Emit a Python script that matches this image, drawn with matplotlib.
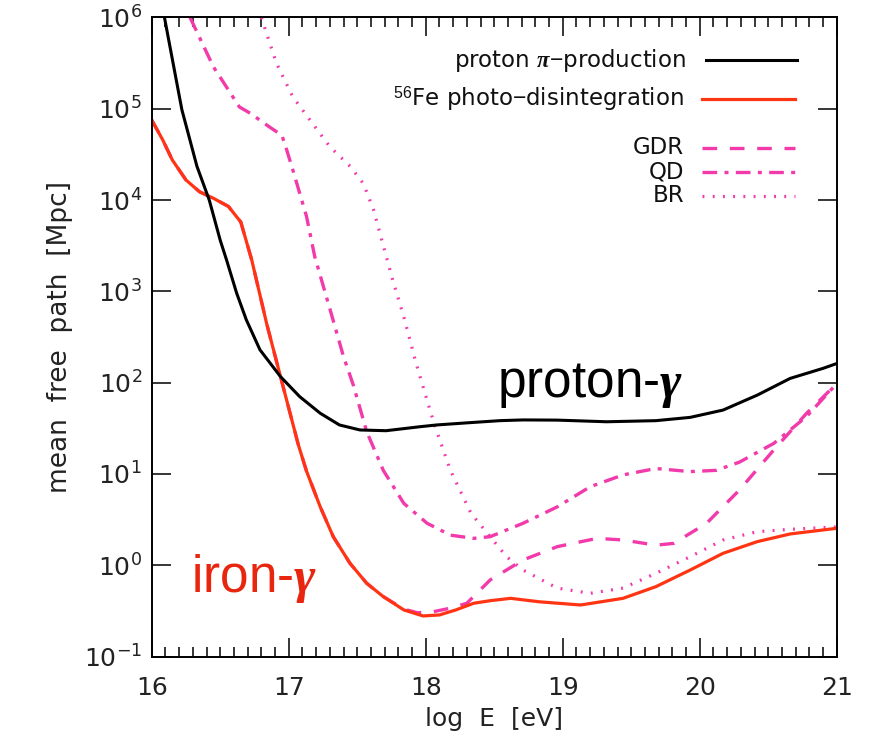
import numpy as np
import matplotlib
matplotlib.use("Agg")
import matplotlib.pyplot as plt
from matplotlib.ticker import FixedLocator, MultipleLocator, NullLocator

plt.rcParams['font.family'] = ['DejaVu Sans']
plt.rcParams['mathtext.fontset'] = 'custom'
plt.rcParams['mathtext.rm'] = 'Liberation Sans'
plt.rcParams['mathtext.it'] = 'Liberation Serif:italic'
plt.rcParams['mathtext.bf'] = 'Liberation Serif:bold:italic'

# ---- mean free paths, log10 of Mpc, versus log10(E/eV) ----
proton_logE = [16.05, 16.093, 16.22, 16.33, 16.42, 16.50, 16.547, 16.62, 16.69, 16.79,
               16.94, 17.08, 17.23, 17.37, 17.52, 17.71, 17.96, 18.08, 18.32, 18.54,
               18.71, 18.96, 19.32, 19.68, 19.93, 20.17, 20.42, 20.66, 20.90, 21.0]
proton_logL = [6.35, 6.0, 4.99, 4.37, 4.00, 3.56, 3.34, 2.98, 2.69, 2.36,
               2.066, 1.847, 1.665, 1.537, 1.482, 1.474, 1.518, 1.537, 1.562, 1.584,
               1.592, 1.59, 1.572, 1.584, 1.62, 1.70, 1.864, 2.047, 2.157, 2.21]

iron_logE = [16.0, 16.08, 16.15, 16.25, 16.35, 16.45, 16.56, 16.65, 16.73, 16.84,
             16.94, 17.07, 17.13, 17.23, 17.325, 17.447, 17.569, 17.69, 17.84, 17.98,
             18.10, 18.22, 18.35, 18.47, 18.62, 18.83, 19.13, 19.44, 19.68, 19.93,
             20.17, 20.42, 20.66, 20.90, 21.0]
iron_logL = [4.877, 4.66, 4.44, 4.22, 4.09, 4.02, 3.93, 3.76, 3.344, 2.64,
             2.066, 1.32, 1.03, 0.64, 0.313, 0.022, -0.197, -0.343, -0.489, -0.555,
             -0.544, -0.489, -0.416, -0.388, -0.362, -0.40, -0.435, -0.362, -0.234, -0.052,
             0.131, 0.259, 0.343, 0.387, 0.405]

gdr_logE = [16.0, 16.08, 16.15, 16.25, 16.35, 16.45, 16.56, 16.65, 16.73, 16.84,
            16.94, 17.07, 17.13, 17.23, 17.325, 17.447, 17.569, 17.69, 17.84, 17.94,
            18.05, 18.18, 18.30, 18.47, 18.71, 18.96, 19.25, 19.44, 19.68, 19.81,
            20.05, 20.29, 20.54, 20.78, 21.0]
gdr_logL = [4.877, 4.66, 4.44, 4.22, 4.09, 4.02, 3.93, 3.76, 3.344, 2.64,
            2.066, 1.32, 1.03, 0.64, 0.313, 0.022, -0.197, -0.343, -0.48, -0.52,
            -0.51, -0.47, -0.416, -0.161, 0.058, 0.204, 0.295, 0.277, 0.22, 0.24,
            0.46, 0.825, 1.263, 1.665, 1.99]

qd_logE = [16.28, 16.45, 16.64, 16.72, 16.86, 16.95, 16.985, 17.03, 17.08, 17.13,
           17.19, 17.30, 17.40, 17.47, 17.57, 17.69, 17.84, 18.01, 18.18, 18.35,
           18.47, 18.71, 18.96, 19.20, 19.44, 19.68, 19.93, 20.12, 20.29, 20.54,
           20.78, 21.0]
qd_logL = [6.0, 5.46, 5.02, 4.95, 4.80, 4.71, 4.55, 4.33, 4.075, 3.82,
           3.38, 2.81, 2.285, 1.98, 1.46, 1.04, 0.678, 0.46, 0.33, 0.295,
           0.313, 0.46, 0.64, 0.86, 0.99, 1.06, 1.026, 1.04, 1.13, 1.335,
           1.63, 1.99]

br_logE = [16.80, 16.91, 17.03, 17.155, 17.30, 17.45, 17.545, 17.62, 17.69, 17.76,
           17.84, 17.93, 18.06, 18.18, 18.33, 18.47, 18.59, 18.71, 18.96, 19.20,
           19.44, 19.68, 19.93, 20.17, 20.42, 20.66, 21.0]
br_logL = [6.0, 5.50, 5.13, 4.877, 4.585, 4.366, 4.18, 3.89, 3.50, 3.12,
           2.72, 2.21, 1.555, 1.04, 0.57, 0.313, 0.094, -0.052, -0.25, -0.307,
           -0.25, -0.088, 0.094, 0.277, 0.368, 0.394, 0.42]

x_ticks = [16, 17, 18, 19, 20, 21]
y_decades = [-1, 0, 1, 2, 3, 4, 5, 6]

BLACK = '#000000'
RED = '#FF3412'
PINK = '#F23AAA'
TEXT_RED = '#E8260F'

fig = plt.figure(figsize=(8.75, 7.44), dpi=100)
ax = fig.add_axes([0.1734, 0.1175, 0.7829, 0.859])


def curve(xs, ls, **kw):
    ax.plot(xs, np.power(10.0, ls), **kw)


DOT = (0, (0.6, 2.6))
DASHDOT = (0, (4.4, 2.2, 1.2, 2.2))
DASH = (0, (4.4, 3.8))

curve(br_logE, br_logL, color=PINK, lw=2.3, linestyle=DOT)
curve(qd_logE, qd_logL, color=PINK, lw=2.4, linestyle=DASHDOT)
curve(gdr_logE, gdr_logL, color=PINK, lw=2.4, linestyle=DASH)
curve(iron_logE, iron_logL, color=RED, lw=2.3, solid_joinstyle='round')
curve(proton_logE, proton_logL, color=BLACK, lw=2.2, solid_joinstyle='round')

ax.set_yscale('log')
ax.set_xlim(16, 21)
ax.set_ylim(1e-1, 1e6)

ax.xaxis.set_major_locator(FixedLocator(x_ticks))
ax.xaxis.set_minor_locator(MultipleLocator(0.1))
ax.set_xticklabels([str(t) for t in x_ticks])
ax.yaxis.set_major_locator(FixedLocator([10.0 ** d for d in y_decades]))
ax.yaxis.set_minor_locator(NullLocator())
ax.set_yticklabels([r'$\mathdefault{10^{%d}}$' % d for d in y_decades])

ax.tick_params(axis='both', which='both', direction='in', top=True, right=True,
               width=1.1, labelsize=18, colors='black')
ax.tick_params(axis='both', which='major', length=14)
ax.tick_params(axis='x', which='major', pad=14)
ax.tick_params(axis='y', which='major', pad=7)
ax.tick_params(axis='x', which='minor', length=7)
for sp in ax.spines.values():
    sp.set_linewidth(1.4)
for lab in ax.get_xticklabels() + ax.get_yticklabels():
    lab.set_color('#222222')

ax.set_xlabel('log  E  [eV]', fontsize=18, color='#222222', labelpad=5)
ax.set_ylabel('mean  free  path  [Mpc]', fontsize=19, color='#222222', labelpad=8)

# legend drawn by hand
tr = ax.transAxes
leg_txt = dict(transform=tr, ha='right', va='center', fontsize=16.5, color='#111111')
ax.text(0.780, 0.933, r'proton $\mathbf{\pi}$$-$production', **leg_txt)
ax.plot([0.809, 0.942], [0.933, 0.933], transform=tr, color=BLACK, lw=2.2)
ax.text(0.777, 0.873, r'$^{56}$Fe photo$-$disintegration', **leg_txt)
ax.plot([0.803, 0.939], [0.873, 0.873], transform=tr, color=RED, lw=2.3)
ax.text(0.777, 0.796, 'GDR', **leg_txt)
ax.plot([0.803, 0.939], [0.796, 0.796], transform=tr, color=PINK, lw=2.4,
        linestyle=DASH)
ax.text(0.777, 0.758, 'QD', **leg_txt)
ax.plot([0.803, 0.939], [0.758, 0.758], transform=tr, color=PINK, lw=2.4,
        linestyle=DASHDOT)
ax.text(0.777, 0.721, 'BR', **leg_txt)
ax.plot([0.803, 0.939], [0.721, 0.721], transform=tr, color=PINK, lw=2.3,
        linestyle=DOT)

# curve labels
ax.text(0.504, 0.406, r'proton-$\mathbf{\gamma}$', transform=tr, ha='left',
        va='baseline', fontsize=37, family='Liberation Sans', color='black')
ax.text(0.058, 0.1016, r'iron-$\mathbf{\gamma}$', transform=tr, ha='left',
        va='baseline', fontsize=37, family='Liberation Sans', color=TEXT_RED)

fig.savefig('out.png', dpi=100)
